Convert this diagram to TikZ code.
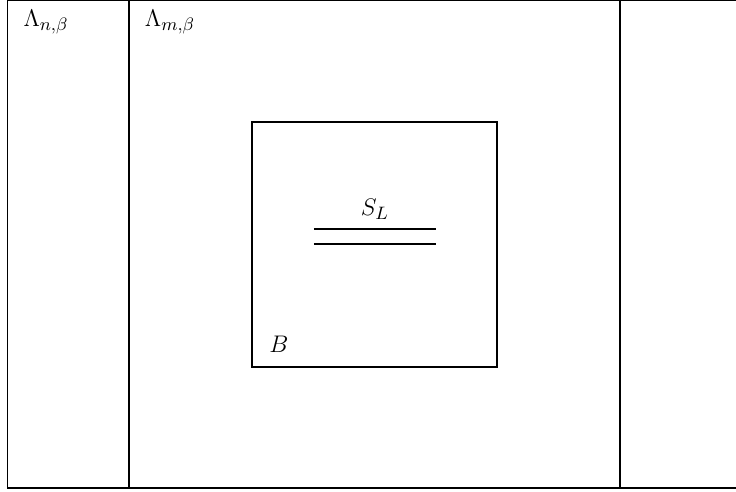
\documentclass[tikz,border=0pt]{standalone}
\begin{document}
\begin{tikzpicture}[x=0.5pt,y=-0.5pt,
  frame/.style={draw=black,line width=0.6pt},
  thick line/.style={draw=black,line width=1.1pt},
  lbl/.style={inner sep=0pt,font=\fontsize{12.5pt}{15pt}\selectfont}]
\useasboundingbox (0,0) rectangle (736,492);
\draw[frame] (737,0.8) -- (7.5,0.8) -- (7.5,488) -- (737,488);
\draw[frame] (129,0.8) -- (129,488);
\draw[frame] (620,0.8) -- (620,488);
\draw[frame] (252,122) rectangle (497,367);
\draw[thick line] (314,229) -- (436,229);
\draw[thick line] (314,244) -- (436,244);
\node[lbl] (ln) at (46,22) {$\Lambda_{n,\beta}$};
\node[lbl] (lm) at (170,22) {$\Lambda_{m,\beta}$};
\node[lbl] (sl) at (375,209) {$S_L$};
\node[lbl] (b) at (279,344) {$B$};
\end{tikzpicture}
\end{document}
